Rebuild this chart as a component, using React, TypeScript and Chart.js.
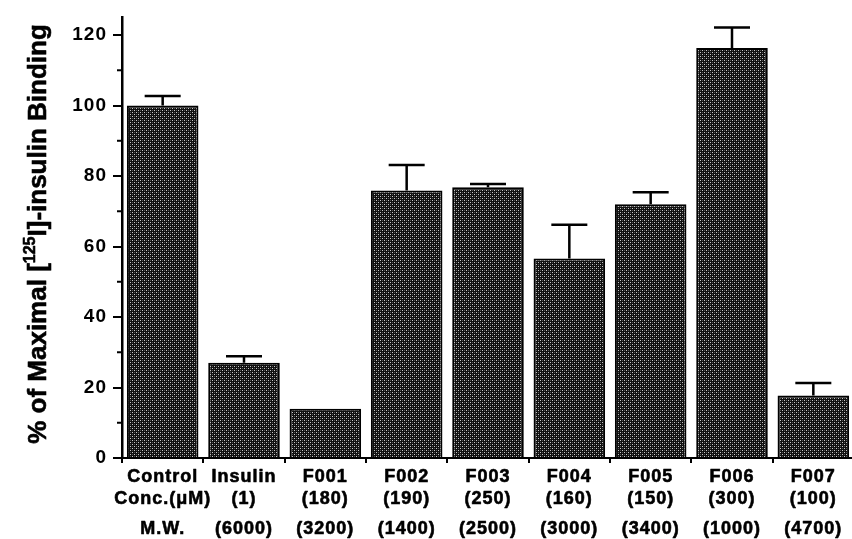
import React, { useEffect, useRef } from "react";
import { Chart, registerables } from "chart.js";

Chart.register(...registerables);

const categories = ["Control", "Insulin", "F001", "F002", "F003", "F004", "F005", "F006", "F007"];
const concLabels = ["Conc.(\u03bcM)", "(1)", "(180)", "(190)", "(250)", "(160)", "(150)", "(300)", "(100)"];
const mwLabels = ["M.W.", "(6000)", "(3200)", "(1400)", "(2500)", "(3000)", "(3400)", "(1000)", "(4700)"];
const bindingValues = [100, 27, 14, 75.9, 76.8, 56.6, 72.0, 116.3, 17.7];
const errorTops: (number | null)[] = [102.7, 28.9, null, 83.1, 77.7, 66.2, 75.4, 122.1, 21.3];
const minorTickValues = [10, 30, 50, 70, 90, 110];

const W = 856;
const H = 539;
const FONT = '"Liberation Sans", Arial, sans-serif';

function makePattern(): CanvasPattern | string {
  const c = document.createElement("canvas");
  c.width = 4;
  c.height = 4;
  const g = c.getContext("2d");
  if (!g) return "#333";
  g.fillStyle = "#101010";
  g.fillRect(0, 0, 4, 4);
  g.fillStyle = "#c8c8c8";
  g.fillRect(0, 0, 1, 1);
  g.fillRect(2, 2, 1, 1);
  g.fillStyle = "#555555";
  g.fillRect(2, 0, 1, 1);
  g.fillRect(0, 2, 1, 1);
  const p = g.createPattern(c, "repeat");
  return p || "#333";
}

const decorPlugin = {
  id: "decor",
  beforeDraw(chart: any) {
    (chart.ctx as any).letterSpacing = "1px";
  },
  afterDatasetsDraw(chart: any) {
    const ctx = chart.ctx;
    const meta = chart.getDatasetMeta(0);
    const ys = chart.scales.y;
    ctx.save();
    ctx.strokeStyle = "#000";
    ctx.lineWidth = 2.5;
    errorTops.forEach((e, i) => {
      if (e == null) return;
      const el = meta.data[i];
      const x = el.x;
      const yTop = el.y;
      const yErr = ys.getPixelForValue(e);
      ctx.beginPath();
      ctx.moveTo(x, yTop);
      ctx.lineTo(x, yErr);
      ctx.moveTo(x - 18, yErr);
      ctx.lineTo(x + 18, yErr);
      ctx.stroke();
    });
    ctx.restore();
  },
  afterDraw(chart: any) {
    const ctx = chart.ctx;
    const xs = chart.scales.x;
    const ys = chart.scales.y;
    const left = chart.chartArea.left;
    ctx.save();
    ctx.strokeStyle = "#000";
    ctx.lineWidth = 2;
    minorTickValues.forEach((v) => {
      const y = ys.getPixelForValue(v);
      ctx.beginPath();
      ctx.moveTo(left - 5, y);
      ctx.lineTo(left, y);
      ctx.stroke();
    });
    ctx.fillStyle = "#000";
    ctx.textAlign = "center";
    ctx.textBaseline = "alphabetic";
    ctx.lineWidth = 0.6;
    ctx.lineJoin = "round";
    (ctx as any).letterSpacing = "1px";
    ctx.font = "bold 18px " + FONT;
    const put = (t: string, x: number, y: number) => {
      ctx.fillText(t, x, y);
      ctx.strokeText(t, x, y);
    };
    categories.forEach((c, i) => {
      const x = xs.getPixelForValue(i);
      put(c, x, 482);
      put(concLabels[i], x, 504);
      put(mwLabels[i], x, 534);
    });
    (ctx as any).letterSpacing = "0px";
    const big = "bold 26px " + FONT;
    const small = "bold 16px " + FONT;
    const parts: [string, string, number][] = [
      ["% of Maximal [", big, 0],
      ["125", small, -11],
      ["I]-insulin Binding", big, 0],
    ];
    let total = 0;
    parts.forEach(([t, f]) => {
      ctx.font = f;
      total += ctx.measureText(t).width;
    });
    ctx.translate(46, 234);
    ctx.rotate(-Math.PI / 2);
    ctx.textAlign = "left";
    let cx = -total / 2;
    parts.forEach(([t, f, dy]) => {
      ctx.font = f;
      ctx.fillText(t, cx, dy);
      ctx.strokeText(t, cx, dy);
      cx += ctx.measureText(t).width;
    });
    ctx.restore();
  },
};

export default function App() {
  const ref = useRef<HTMLCanvasElement | null>(null);
  useEffect(() => {
    document.body.style.margin = "0";
    document.body.style.overflow = "hidden";
    const canvas = ref.current;
    if (!canvas) return;
    const pattern = makePattern();
    const chart = new Chart(canvas, {
      type: "bar",
      data: {
        labels: categories,
        datasets: [
          {
            data: bindingValues,
            backgroundColor: pattern as any,
            borderColor: "#000",
            borderWidth: 2,
            barPercentage: 0.88,
            categoryPercentage: 1,
          },
        ],
      },
      options: {
        responsive: false,
        animation: false,
        devicePixelRatio: 1,
        layout: { padding: { top: 12, right: 2, left: 0, bottom: 0 } },
        plugins: { legend: { display: false }, tooltip: { enabled: false }, title: { display: false } },
        scales: {
          x: {
            offset: true,
            grid: { offset: true, drawOnChartArea: false, drawTicks: true, tickLength: 5, color: "#000", lineWidth: 2 },
            border: { display: true, color: "#000", width: 2 },
            ticks: { display: false },
            afterFit: (s: any) => {
              s.height = H - 458;
            },
          },
          y: {
            min: 0,
            max: 125,
            ticks: {
              stepSize: 20,
              includeBounds: false,
              color: "#000",
              padding: 6,
              font: { family: FONT, size: 19, weight: "bold" },
            },
            grid: { drawOnChartArea: false, drawTicks: true, tickLength: 9, color: "#000", lineWidth: 2 },
            border: { display: true, color: "#000", width: 2.5 },
            afterFit: (s: any) => {
              s.width = 122;
            },
          },
        },
      },
      plugins: [decorPlugin],
    });
    return () => chart.destroy();
  }, []);
  return <canvas ref={ref} width={W} height={H} style={{ display: "block", width: W, height: H }} />;
}
